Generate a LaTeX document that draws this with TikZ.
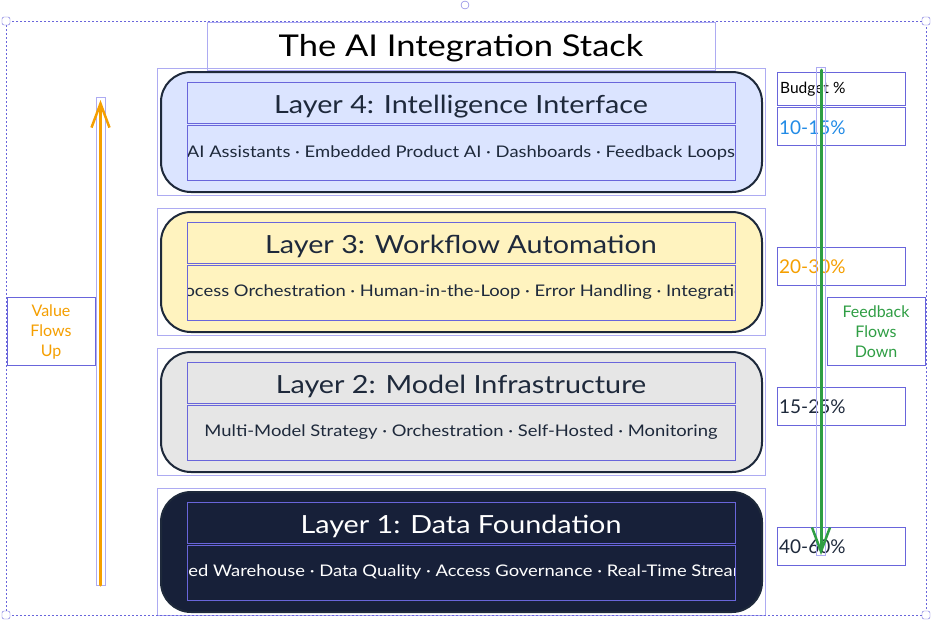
\documentclass[tikz,border=0pt]{standalone}
\usepackage{fontspec}
\setmainfont{Lato}[FakeStretch=1.15]
\newfontfamily\plainfont{Lato}
\usetikzlibrary{arrows.meta, positioning}

\definecolor{selDark}{HTML}{6965DB}
\definecolor{selLight}{HTML}{ADABF2}
\definecolor{ink}{HTML}{1E293B}
\definecolor{navy}{HTML}{172039}
\definecolor{paleBlue}{HTML}{DBE4FF}
\definecolor{paleYellow}{HTML}{FFF3BF}
\definecolor{paleGray}{HTML}{E6E6E6}
\definecolor{valueOrange}{HTML}{F59F00}
\definecolor{feedGreen}{HTML}{2F9E44}
\definecolor{pctBlue}{HTML}{228BE6}

\begin{document}
\begin{tikzpicture}[x=1pt, y=-1pt,
	sel/.style={draw=selDark, line width=1pt},
	sellight/.style={draw=selLight, line width=1pt},
	layer/.style={draw=ink, line width=2pt, rounded corners=30pt},
	ltitle/.style={font=\fontsize{25}{29}\selectfont, text=ink, inner sep=0pt},
	lbody/.style={font=\fontsize{16}{19}\selectfont, text=ink, inner sep=0pt},
	pct/.style={font=\plainfont\fontsize{19}{23}\selectfont, anchor=west, inner sep=0pt},
	flow/.style={font=\plainfont\fontsize{16}{20}\selectfont, align=center, inner sep=0pt}]
	
	% ====== canvas ======
	\useasboundingbox[fill=white] (0,0) rectangle (932,622);
	
	% ====== title ======
	\node[font=\fontsize{30}{34}\selectfont, inner sep=0pt] (title) at (461,48) {The AI Integration Stack};
	\draw[sellight] (207,22) rectangle (715,70);
	
	% ====== layer 4: intelligence interface ======
	\draw[layer, fill=paleBlue] (161,72) rectangle (762,192);
	\node[ltitle] (l4name) at (461,106.5) {Layer 4: Intelligence Interface};
	\begin{scope}
		\clip (187,125) rectangle (735,180);
		\node[lbody] (l4items) at (461,152.5) {AI Assistants · Embedded Product AI · Dashboards · Feedback Loops};
	\end{scope}
	
	% ====== layer 3: workflow automation ======
	\draw[layer, fill=paleYellow] (161,212) rectangle (762,332);
	\node[ltitle] (l3name) at (461,246.5) {Layer 3: Workflow Automation};
	\begin{scope}
		\clip (187,265) rectangle (735,320);
		\node[lbody] (l3items) at (461,292.5) {Process Orchestration · Human-in-the-Loop · Error Handling · Integration};
	\end{scope}
	
	% ====== layer 2: model infrastructure ======
	\draw[layer, fill=paleGray] (161,352) rectangle (762,472);
	\node[ltitle] (l2name) at (461,386.5) {Layer 2: Model Infrastructure};
	\begin{scope}
		\clip (187,405) rectangle (735,460);
		\node[lbody] (l2items) at (461,432.5) {Multi-Model Strategy · Orchestration · Self-Hosted · Monitoring};
	\end{scope}
	
	% ====== layer 1: data foundation ======
	\draw[layer, fill=navy] (161,492) rectangle (762,612);
	\node[ltitle, text=white] (l1name) at (461,526.5) {Layer 1: Data Foundation};
	\begin{scope}
		\clip (187,545) rectangle (735,600);
		\node[lbody, text=white] (l1items) at (461,572.5) {Unified Warehouse · Data Quality · Access Governance · Real-Time Streaming};
	\end{scope}
	
	% ====== layer outlines (selection) ======
	\draw[sellight] (157,68) rectangle (765,195);
	\draw[sel] (187,82) rectangle (735,123);
	\draw[sel] (187,125) rectangle (735,180);
	\draw[sellight] (157,208) rectangle (765,335);
	\draw[sel] (187,222) rectangle (735,263);
	\draw[sel] (187,265) rectangle (735,320);
	\draw[sellight] (157,348) rectangle (765,475);
	\draw[sel] (187,362) rectangle (735,403);
	\draw[sel] (187,405) rectangle (735,460);
	\draw[sellight] (157,488) rectangle (765,615);
	\draw[sel] (187,502) rectangle (735,543);
	\draw[sel] (187,545) rectangle (735,600);
	
	% ====== budget column ======
	\node[pct, font=\plainfont\fontsize{15.5}{18}\selectfont] (budget) at (780,89) {Budget \%};
	\node[pct, text=pctBlue] (b4) at (779,127.5) {10-15\%};
	\node[pct, text=valueOrange] (b3) at (779,266.5) {20-30\%};
	\node[pct, text=ink] (b2) at (779,406.5) {15-25\%};
	\node[pct, text=ink] (b1) at (779,546.5) {40-60\%};
	\draw[sel] (777,72) rectangle (905,105);
	\draw[sel] (777,107) rectangle (905,145);
	\draw[sel] (777,247) rectangle (905,285);
	\draw[sel] (777,387) rectangle (905,425);
	\draw[sel] (777,527) rectangle (905,565);
	
	% ====== value flows up ======
	\coordinate (vbot) at (100.5,585);
	\coordinate (vtop) at (100.5,100);
	\draw[sellight] (96,97) rectangle (105,585);
	\draw[valueOrange, line width=3pt, line cap=round,
	-{Straight Barb[length=24pt, width=18pt, line width=2.5pt]}] (vbot) -- (vtop);
	\node[flow, text=valueOrange] (vlabel) at (51,332) {Value\\Flows\\Up};
	\draw[sel] (7,297) rectangle (95,365);
	
	% ====== feedback flows down ======
	\coordinate (ftop) at (821,70);
	\coordinate (fbot) at (821,555);
	\draw[sellight] (816,67) rectangle (825,555);
	\draw[feedGreen, line width=3pt, line cap=round,
	-{Straight Barb[length=24pt, width=18pt, line width=2.5pt]}] (ftop) -- (fbot);
	\node[flow, text=feedGreen] (flabel) at (876,332) {Feedback\\Flows\\Down};
	\draw[sel] (827,297) rectangle (925,365);
	
	% ====== selection frame and handles ======
	\draw[selDark, line width=1pt, dash pattern=on 2pt off 2pt] (6,21) rectangle (926,615);
	\draw[selDark, fill=white, rounded corners=2pt] (2,17) rectangle (10,25);
	\draw[selDark, fill=white, rounded corners=2pt] (922,17) rectangle (930,25);
	\draw[selDark, fill=white, rounded corners=2pt] (2,611) rectangle (10,619);
	\draw[selDark, fill=white, rounded corners=2pt] (922,611) rectangle (930,619);
	\draw[selDark, fill=white] (465,5) circle (4);
\end{tikzpicture}
\end{document}
